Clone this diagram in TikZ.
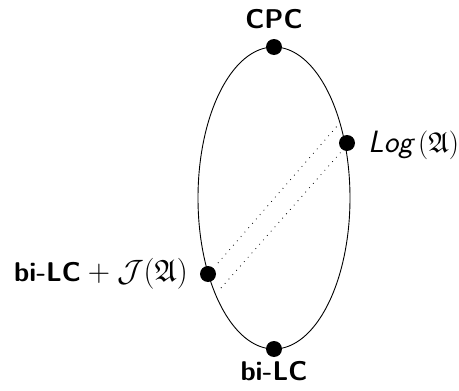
\documentclass[tikz,border=0pt]{standalone}
\usepackage{amssymb}
\usepackage{amsfonts}
\begin{document}
\begin{tikzpicture}[x=1pt,y=-1pt,
  dot/.style={circle,fill=black,inner sep=0pt,minimum size=16pt},
  lbl/.style={inner sep=0pt,scale=1.09,font=\fontsize{24.88}{30}\selectfont\sffamily},
  dotline/.style={line width=0.8pt,dash pattern=on 0.8pt off 5pt}]
\useasboundingbox (0,0) rectangle (459,391);
\draw[line width=0.9pt] (274,198) ellipse [x radius=76, y radius=151];
\node[dot] (top) at (274,47) {};
\node[dot] (bot) at (274,349) {};
\node[dot] (r) at (347,143) {};
\node[dot] (l) at (208,274) {};
\coordinate (a1) at (218,263);
\coordinate (a2) at (338,125);
\coordinate (b1) at (221,288);
\coordinate (b2) at (341,152);
\draw[dotline] (a1) -- (a2);
\draw[dotline] (b1) -- (b2);
\node[lbl,anchor=base] (tl) at (274,28) {\bfseries CPC};
\node[lbl,anchor=base] (bl) at (274,380) {\bfseries bi-LC};
\node[lbl,scale=0.963,anchor=base west] (rl) at (368,152) {\scalebox{1.18}{\textit{Log}}\scalebox{1.1}{$\mkern2mu(\mathfrak{A})$}};
\node[lbl,anchor=base east] (ll) at (188,281) {\bfseries bi-LC\scalebox{1.14}{${}+\mathcal{J}(\mathfrak{A})$}};
\end{tikzpicture}
\end{document}
